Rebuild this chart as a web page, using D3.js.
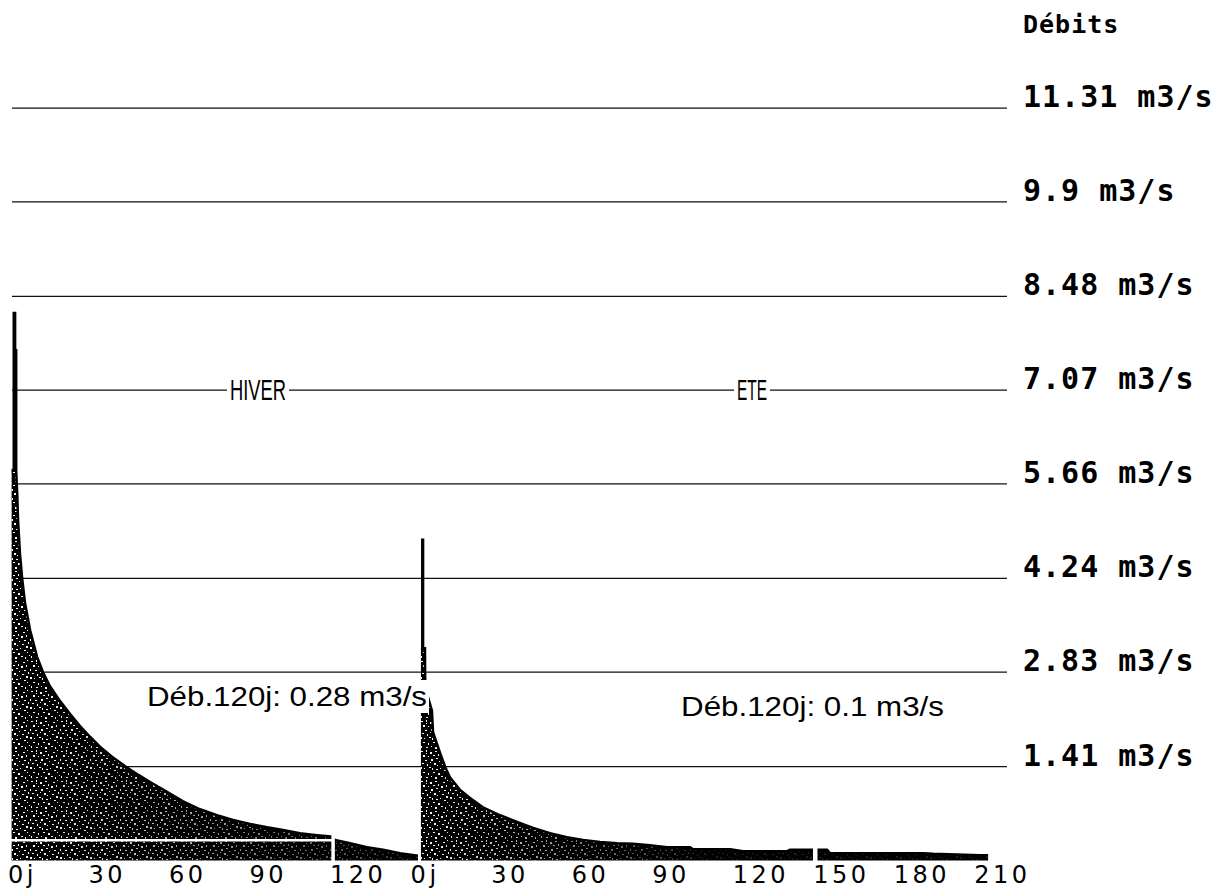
<!DOCTYPE html>
<html lang="fr">
<head>
<meta charset="UTF-8">
<title>Débits classés</title>
<script src="https://d3js.org/d3.v7.min.js"></script>
<style>
  body { margin: 0; background: #fff; }
  svg { display: block; }
  .grid { stroke: #111; stroke-width: 1.3px; }
  .qlab { font-family: "DejaVu Sans Mono", monospace; font-weight: bold; font-size: 30px; letter-spacing: 1px; fill: #000; }
  .xlab { font-family: "DejaVu Sans", sans-serif; font-size: 24px; letter-spacing: 3.5px; fill: #000; }
  .note { font-family: "Liberation Sans", Arial, sans-serif; font-size: 28px; fill: #000; }
  .season { font-family: "Liberation Sans", Arial, sans-serif; font-size: 29px; fill: #000; }
</style>
</head>
<body>
<svg width="1217" height="889"></svg>
<script>
// grid levels (m3/s) shown on the right
const qTicks = [1.41, 2.83, 4.24, 5.66, 7.07, 8.48, 9.9, 11.31];
// day ticks of each season
const winterTicks = [0, 30, 60, 90, 120];
const summerTicks = [0, 30, 60, 90, 120, 150, 180, 210];
const summerStart = 150;   // summer axis origin, in days from start of record

// flow duration curves: [day, m3/s]
const winter = [
  [0.6, 5.87], [1.4, 5.87], [1.4, 8.23], [1.9, 8.23], [1.9, 7.67], [2.3, 7.67],
  [2.3, 5.87], [2.7, 5.5], [3.0, 5.12], [3.7, 4.62], [4.5, 4.25], [5.6, 3.87],
  [7.5, 3.46], [10.1, 3.06], [12.3, 2.83], [14.9, 2.62], [18.6, 2.40], [22.4, 2.20],
  [26.1, 2.02], [29.8, 1.86], [33.5, 1.71], [38.0, 1.56], [42.8, 1.42], [47.7, 1.29],
  [52.2, 1.18], [57.7, 1.05], [64.5, 0.89], [70.8, 0.77], [77.1, 0.68], [83.1, 0.61],
  [89.4, 0.55], [95.8, 0.50], [101.7, 0.46], [108, 0.41], [114.4, 0.38], [119.6, 0.36],
  [121.1, 0.31], [126.7, 0.26], [133, 0.20], [139, 0.16], [145.3, 0.11], [152, 0.07]
];
const summer = [
  [3.1, 3.19], [3.6, 3.19], [3.6, 4.82], [3.9, 4.82], [3.9, 3.19], [4.6, 3.19],
  [4.7, 2.6], [7.2, 2.25], [7.6, 1.93], [10.2, 1.62], [12.1, 1.41], [13.9, 1.25],
  [17.7, 1.06], [21.4, 0.94], [26.2, 0.80], [32.6, 0.68], [38.9, 0.58], [44.9, 0.49],
  [51.2, 0.41], [57.5, 0.35], [63.5, 0.31], [69.8, 0.28], [76.2, 0.26], [82.1, 0.25],
  [88.4, 0.23], [94.8, 0.20], [103.4, 0.20], [104.5, 0.17], [118.3, 0.17], [123.1, 0.14],
  [139.5, 0.14], [140.6, 0.16], [154.4, 0.16], [155.5, 0.11], [190.2, 0.11], [193.9, 0.10],
  [211.4, 0.08], [214.4, 0.08]
];
// 120-day flow of each season and where its mark cuts the curve
const winterQ120 = 0.28, winterMarkDay = 120;
const summerQ120 = 0.1, summerMarkDay = 150;

const svg = d3.select('svg');
const x = d3.scaleLinear().domain([0, 365]).range([10, 989.7]);
const y = d3.scaleLinear().domain([0, 12.934]).range([860.5, 0]);
const xs = d => x(summerStart + d);

// speckle texture (fixed dot layout in a 30px tile)
const defs = svg.append('defs');
const pat = defs.append('pattern').attr('id', 'speck')
  .attr('patternUnits', 'userSpaceOnUse').attr('width', 30).attr('height', 30);
const specks = [[1,1,2,1],[6,0,1,2],[10,2,2,2],[15,1,2,1],[18,4,1,2],[23,2,2,1],[27,0,1,1],
  [3,5,2,2],[8,6,1,1],[13,5,2,1],[21,6,2,2],[26,5,1,2],[0,9,1,2],[5,10,2,1],[11,9,2,2],
  [16,8,2,1],[19,11,1,1],[24,10,2,1],[28,12,1,2],[2,13,2,1],[7,14,1,2],[14,13,2,2],[17,15,1,1],
  [22,14,2,1],[26,16,2,2],[0,17,2,2],[4,18,1,1],[9,17,2,1],[12,18,1,2],[16,19,2,1],[20,18,1,1],
  [24,20,2,1],[3,22,2,1],[8,23,1,2],[13,22,2,1],[18,23,2,2],[27,22,1,1],[1,26,1,2],[6,27,2,1],
  [11,26,1,1],[15,27,2,2],[21,26,2,1],[25,27,1,2],[29,25,1,1],[10,12,1,1],[6,3,1,1]];
pat.selectAll('rect').data(specks).join('rect')
  .attr('x', d => d[0]).attr('y', d => d[1]).attr('width', d => d[2]).attr('height', d => d[3])
  .attr('fill', '#fff');

function fade(id, x0, x1, end) {
  const g = defs.append('linearGradient').attr('id', id + 'g')
    .attr('gradientUnits', 'userSpaceOnUse').attr('x1', x0).attr('x2', x1).attr('y1', 0).attr('y2', 0);
  g.append('stop').attr('offset', 0).attr('stop-color', '#fff');
  g.append('stop').attr('offset', 1).attr('stop-color', end);
  defs.append('mask').attr('id', id).attr('maskUnits', 'userSpaceOnUse')
    .attr('x', 0).attr('y', 0).attr('width', 1217).attr('height', 889)
    .append('rect').attr('width', 1217).attr('height', 889).attr('fill', `url(#${id}g)`);
}
fade('wmask', x(0), x(150), '#333');
fade('smask', xs(0), xs(110), '#222');

// grid
svg.append('g').selectAll('line').data(qTicks).join('line')
  .attr('class', 'grid')
  .attr('x1', 12).attr('x2', 1007)
  .attr('y1', d => y(d)).attr('y2', d => y(d));

const area = d3.area().x(d => d[0]).y0(y(0)).y1(d => y(d[1]));
const edge = d3.line().x(d => d[0]).y(d => y(d[1]));

function curve(data, xf, maskId) {
  const pts = data.map(d => [xf(d[0]), d[1]]);
  const g = svg.append('g');
  g.append('path').attr('d', area(pts)).attr('fill', '#000');
  g.append('path').attr('d', area(pts)).attr('fill', 'url(#speck)').attr('mask', `url(#${maskId})`);
  g.append('path').attr('d', edge(pts)).attr('fill', 'none').attr('stroke', '#000').attr('stroke-width', 2.5);
  return g;
}
curve(winter, x, 'wmask');
curve(summer, xs, 'smask');

// 120-day marks cut in white
svg.append('line').attr('x1', x(0)).attr('x2', x(winterMarkDay))
  .attr('y1', y(winterQ120) - 1.5).attr('y2', y(winterQ120) - 1.5)
  .attr('stroke', '#fff').attr('stroke-width', 2.5);
svg.append('line').attr('x1', x(winterMarkDay) + 1).attr('x2', x(winterMarkDay) + 1)
  .attr('y1', y(1)).attr('y2', y(0) + 1)
  .attr('stroke', '#fff').attr('stroke-width', 3.5);
svg.append('line').attr('x1', xs(summerMarkDay)).attr('x2', xs(summerMarkDay))
  .attr('y1', y(1)).attr('y2', y(0) + 1)
  .attr('stroke', '#fff').attr('stroke-width', 4.5);

// text on an opaque white box, as the original plotter did
function boxed(cls, str, tx, ty, len, pad) {
  const g = svg.append('g');
  const r = g.append('rect').attr('fill', '#fff');
  const t = g.append('text').attr('class', cls).attr('x', tx).attr('y', ty).text(str);
  if (len) t.attr('textLength', len).attr('lengthAdjust', 'spacingAndGlyphs');
  const b = t.node().getBBox();
  r.attr('x', b.x - pad).attr('y', b.y - pad + 1).attr('width', b.width + 2 * pad).attr('height', b.height + 2 * pad - 2);
}
boxed('season', 'HIVER', 230, y(7.07) + 10, 56, 3);
boxed('season', 'ETE', 737, y(7.07) + 10, 30, 3);
boxed('note', `Déb.120j: ${winterQ120} m3/s`, 147, 706, 280, 2);
boxed('note', `Déb.120j: ${summerQ120} m3/s`, 681, 716, 263, 2);

// right-hand level labels
svg.append('text').attr('class', 'qlab').attr('x', 1023).attr('y', 33)
  .style('font-size', '25px').text('Débits');
svg.append('g').selectAll('text').data(qTicks).join('text')
  .attr('class', 'qlab').attr('x', 1023).attr('y', d => y(d) - 1)
  .text(d => d + ' m3/s');

// day axis labels
const xl = svg.append('g');
xl.selectAll('text.w').data(winterTicks).join('text').attr('class', 'xlab w')
  .attr('x', d => x(d) - 2).attr('y', 883).text(d => d === 0 ? '0j' : d);
xl.selectAll('text.s').data(summerTicks).join('text').attr('class', 'xlab s')
  .attr('x', d => xs(d) - 2).attr('y', 883).text(d => d === 0 ? '0j' : d);
</script>
</body>
</html>
